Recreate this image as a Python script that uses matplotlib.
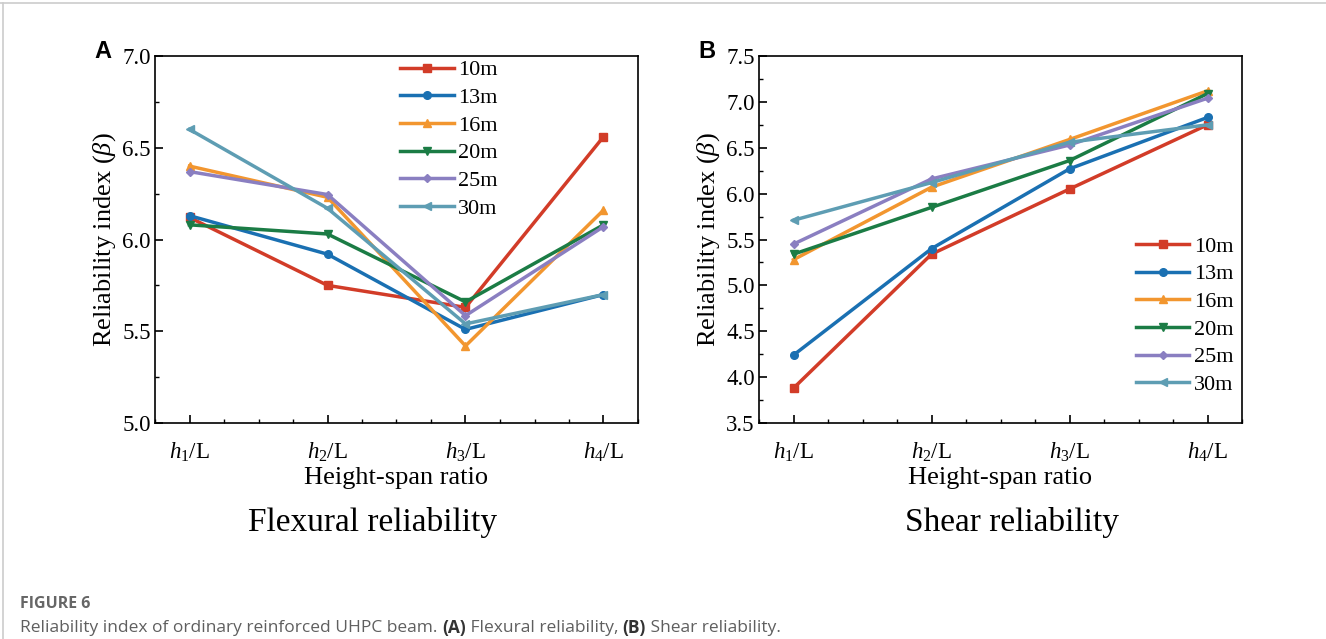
import matplotlib
matplotlib.use("Agg")
import matplotlib.pyplot as plt
from matplotlib.ticker import MultipleLocator, FixedLocator, FormatStrFormatter
from matplotlib.lines import Line2D

plt.rcParams['font.family'] = ['Liberation Serif', 'DejaVu Serif']
plt.rcParams['mathtext.fontset'] = 'custom'
plt.rcParams['mathtext.rm'] = 'Liberation Serif'
plt.rcParams['mathtext.it'] = 'Liberation Serif:italic'
plt.rcParams['mathtext.bf'] = 'Liberation Serif:bold'

# ---- data ----
ratios = [r'$h_1$/L', r'$h_2$/L', r'$h_3$/L', r'$h_4$/L']
spans = ['10m', '13m', '16m', '20m', '25m', '30m']

flex_10 = [6.12, 5.75, 5.63, 6.56]
flex_13 = [6.13, 5.92, 5.51, 5.70]
flex_16 = [6.40, 6.23, 5.42, 6.16]
flex_20 = [6.08, 6.03, 5.66, 6.08]
flex_25 = [6.37, 6.245, 5.585, 6.07]
flex_30 = [6.60, 6.17, 5.54, 5.70]

shear_10 = [3.88, 5.34, 6.05, 6.75]
shear_13 = [4.24, 5.40, 6.27, 6.83]
shear_16 = [5.28, 6.07, 6.59, 7.12]
shear_20 = [5.34, 5.85, 6.36, 7.09]
shear_25 = [5.45, 6.16, 6.53, 7.04]
shear_30 = [5.71, 6.12, 6.56, 6.75]

flex = [flex_10, flex_13, flex_16, flex_20, flex_25, flex_30]
shear = [shear_10, shear_13, shear_16, shear_20, shear_25, shear_30]

colors = ['#d23c28', '#1a70b2', '#f2962f', '#1b7c45', '#8a7fc1', '#5e9db3']
markers = ['s', 'o', '^', 'v', 'D', '<']

W, H = 1326, 639
fig = plt.figure(figsize=(W / 100, H / 100), dpi=100)

def px_axes(x0, y0, x1, y1):
    return fig.add_axes([x0 / W, 1 - y1 / H, (x1 - x0) / W, (y1 - y0) / H])

def style(ax, ylo, yhi):
    xs = list(range(len(ratios)))
    ax.set_xlim(-0.25, 3.25)
    ax.set_ylim(ylo, yhi)
    ax.xaxis.set_major_locator(FixedLocator(xs))
    ax.set_xticklabels(ratios)
    ax.xaxis.set_minor_locator(MultipleLocator(0.25))
    ax.yaxis.set_major_locator(MultipleLocator(0.5))
    ax.yaxis.set_minor_locator(MultipleLocator(0.25))
    ax.yaxis.set_major_formatter(FormatStrFormatter('%.1f'))
    ax.tick_params(axis='both', which='major', direction='in', length=6, width=1.2,
                   labelsize=16.5, top=False, right=False, pad=3)
    ax.tick_params(axis='both', which='minor', direction='in', length=3, width=1.0,
                   top=False, right=False)
    ax.tick_params(axis='x', which='major', pad=13)
    for s in ax.spines.values():
        s.set_linewidth(1.2)
    ax.set_xlabel('Height-span ratio', fontsize=19, labelpad=2)
    ax.set_ylabel(r'Reliability index ($\beta$)', fontsize=19, labelpad=3)

def draw(ax, data):
    xs = list(range(len(ratios)))
    for vals, c, m, lab in zip(data, colors, markers, spans):
        ax.plot(xs, vals, color=c, marker=m, lw=2.5, ms=5.5 if m != 'D' else 4.5,
                label=lab)

axA = px_axes(155, 56, 638, 423)
draw(axA, flex)
style(axA, 5.0, 7.0)
axA.legend(loc='upper left', bbox_to_anchor=(0.476, 1.032), frameon=False,
           fontsize=16, handlelength=2.4, labelspacing=0.32, handletextpad=0.2,
           borderaxespad=0.3)

axB = px_axes(759, 56, 1242, 423)
draw(axB, shear)
style(axB, 3.5, 7.5)
axB.legend(loc='lower right', bbox_to_anchor=(1.005, 0.046), frameon=False,
           fontsize=16, handlelength=2.4, labelspacing=0.32, handletextpad=0.2,
           borderaxespad=0.1)

fig.text(103 / W, 1 - 52 / H, 'A', family='Liberation Sans', weight='bold',
         fontsize=17, ha='center', va='center')
fig.text(707 / W, 1 - 52 / H, 'B', family='Liberation Sans', weight='bold',
         fontsize=17, ha='center', va='center')

fig.text(373 / W, 1 - 523 / H, 'Flexural reliability', fontsize=24,
         ha='center', va='center')
fig.text(1012 / W, 1 - 523 / H, 'Shear reliability', fontsize=24,
         ha='center', va='center')

fig.text(20 / W, 1 - 604 / H, 'FIGURE 6', family='Open Sans', weight='bold',
         fontsize=11.5, color='#666666', ha='left', va='center')

# caption with bold (A)/(B)
cap_parts = [('Reliability index of ordinary reinforced UHPC beam. ', 'normal'),
             ('(A)', 'bold'), (' Flexural reliability, ', 'normal'),
             ('(B)', 'bold'), (' Shear reliability.', 'normal')]
fig.canvas.draw()
r = fig.canvas.get_renderer()
x = 20
for txt, wt in cap_parts:
    t = fig.text(x / W, 1 - 628 / H, txt, family='Open Sans', fontsize=12.5,
                 weight=wt, color='#5f5f5f' if wt == 'normal' else '#333333',
                 ha='left', va='center')
    bb = t.get_window_extent(renderer=r)
    x += bb.width

# border lines
fig.add_artist(Line2D([0, 1], [1 - 3 / H, 1 - 3 / H], color='#cccccc', lw=1.2))
fig.add_artist(Line2D([3 / W, 3 / W], [0, 1 - 3 / H], color='#cccccc', lw=1.2))

fig.savefig('out.png', dpi=100)
